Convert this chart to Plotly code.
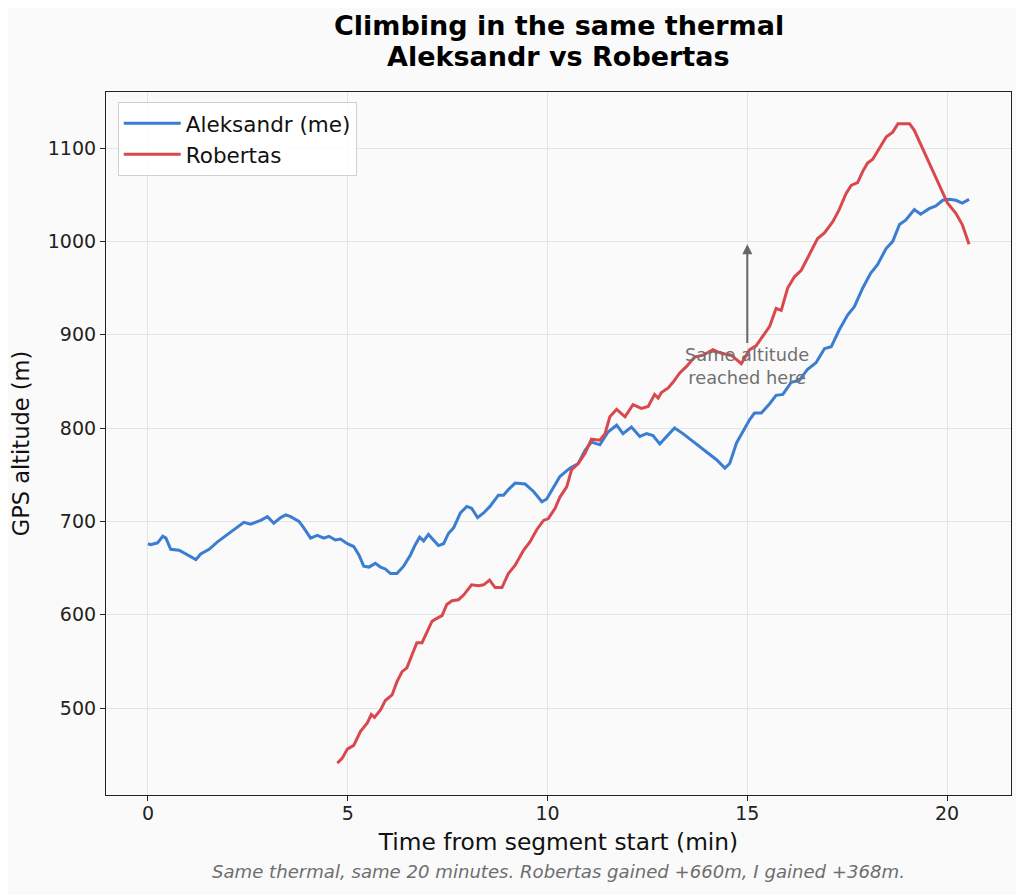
import plotly.graph_objects as go

# Aleksandr (me) - GPS altitude over segment time
aleks_t = [0, 0.07, 0.24, 0.37, 0.45, 0.57, 0.78, 0.99, 1.2, 1.32,
           1.53, 1.74, 1.95, 2.16, 2.4, 2.57, 2.82, 2.99, 3.15, 3.32,
           3.45, 3.57, 3.78, 3.9, 4.07, 4.24, 4.4, 4.53, 4.69, 4.82,
           4.99, 5.15, 5.28, 5.4, 5.53, 5.69, 5.82, 5.94, 6.07, 6.23,
           6.4, 6.57, 6.69, 6.8, 6.9, 7.02, 7.15, 7.27, 7.4, 7.52,
           7.65, 7.82, 7.98, 8.1, 8.25, 8.4, 8.56, 8.77, 8.9, 9.02,
           9.19, 9.44, 9.65, 9.86, 9.98, 10.15, 10.31, 10.56, 10.77, 10.94,
           11.1, 11.31, 11.52, 11.73, 11.89, 12.1, 12.31, 12.48, 12.64, 12.81,
           12.98, 13.18, 13.39, 13.6, 13.81, 14.02, 14.23, 14.44, 14.56, 14.73,
           14.89, 15.06, 15.18, 15.35, 15.56, 15.72, 15.89, 16.1, 16.3, 16.51,
           16.72, 16.93, 17.1, 17.3, 17.51, 17.68, 17.89, 18.09, 18.26, 18.47,
           18.64, 18.81, 18.97, 19.18, 19.34, 19.55, 19.72, 19.89, 20.05, 20.22,
           20.38, 20.55]
aleks_alt = [676, 675, 677, 684, 682, 670, 669, 664, 659, 665,
             670, 678, 685, 691, 699, 697, 701, 705, 698, 704,
             707, 705, 700, 693, 682, 685, 682, 684, 680, 681,
             676, 673, 664, 652, 651, 655, 651, 649, 644, 644,
             652, 664, 675, 683, 679, 686, 680, 674, 676, 687,
             693, 709, 716, 714, 704, 709, 716, 728, 728, 734,
             741, 740, 732, 721, 724, 737, 748, 757, 762, 776,
             785, 782, 796, 803, 794, 801, 791, 794, 792, 783,
             791, 800, 794, 787, 780, 772, 766, 757, 762, 784,
             796, 809, 816, 816, 826, 835, 836, 849, 851, 863,
             870, 885, 887, 905, 921, 930, 950, 966, 975, 992,
             1000, 1018, 1023, 1034, 1029, 1035, 1038, 1044, 1045, 1044,
             1041, 1045]

# Robertas
rob_t = [4.74, 4.86, 4.99, 5.15, 5.32, 5.49, 5.59, 5.67, 5.82, 5.94,
         6.11, 6.23, 6.36, 6.48, 6.61, 6.73, 6.86, 6.98, 7.11, 7.23,
         7.36, 7.48, 7.61, 7.77, 7.9, 8.1, 8.27, 8.4, 8.55, 8.69,
         8.86, 9.02, 9.19, 9.4, 9.56, 9.73, 9.9, 10.02, 10.19, 10.31,
         10.48, 10.6, 10.77, 10.94, 11.1, 11.31, 11.44, 11.56, 11.73, 11.94,
         12.14, 12.35, 12.52, 12.68, 12.77, 12.85, 13.02, 13.14, 13.31, 13.48,
         13.68, 13.89, 14.14, 14.35, 14.6, 14.85, 15.06, 15.22, 15.39, 15.56,
         15.72, 15.85, 16.01, 16.18, 16.35, 16.55, 16.76, 16.93, 17.14, 17.3,
         17.47, 17.6, 17.76, 17.89, 18.01, 18.14, 18.31, 18.48, 18.64, 18.77,
         18.93, 19.06, 19.18, 19.31, 19.47, 19.64, 19.81, 20.01, 20.22, 20.38,
         20.55]
rob_alt = [441, 446, 456, 460, 475, 484, 493, 490, 498, 508,
           514, 528, 539, 543, 557, 570, 570, 582, 593, 596,
           599, 611, 615, 616, 621, 632, 631, 632, 637, 629,
           629, 644, 653, 669, 678, 691, 701, 703, 714, 726,
           737, 755, 762, 773, 788, 787, 794, 812, 820, 812,
           825, 821, 823, 836, 832, 838, 843, 849, 859, 866,
           876, 878, 884, 880, 878, 869, 884, 888, 898, 909,
           928, 926, 950, 962, 969, 985, 1003, 1009, 1021, 1034,
           1051, 1060, 1063, 1075, 1084, 1088, 1100, 1112, 1117, 1126,
           1126, 1126, 1119, 1107, 1091, 1075, 1059, 1041, 1030, 1018,
           997]

x_ticks = [0, 5, 10, 15, 20]
y_ticks = [500, 600, 700, 800, 900, 1000, 1100]

FONT = "DejaVu Sans"
BG = "#fafafa"

fig = go.Figure()
fig.add_trace(go.Scatter(x=aleks_t, y=aleks_alt, mode="lines", name="Aleksandr (me)",
                         line=dict(color="#3a7dd1", width=3)))
fig.add_trace(go.Scatter(x=rob_t, y=rob_alt, mode="lines", name="Robertas",
                         line=dict(color="#d9484d", width=3)))

axis_common = dict(showline=True, linecolor="#222222", linewidth=1.2, mirror=True,
                   ticks="outside", ticklen=5, tickcolor="#222222",
                   showgrid=True, gridcolor="#e4e4e4", gridwidth=1, zeroline=False,
                   tickfont=dict(family=FONT, size=19, color="#222222"))

fig.update_xaxes(range=[-1.05, 21.6], tickvals=x_ticks, ticklabelstandoff=-4,
                 title=dict(text="Time from segment start (min)",
                            font=dict(family=FONT, size=23.3, color="#111111"), standoff=10),
                 **axis_common)
fig.update_yaxes(range=[406.8, 1160], tickvals=y_ticks,
                 title=dict(text="GPS altitude (m)",
                            font=dict(family=FONT, size=22.5, color="#111111"), standoff=12),
                 **axis_common)

# plot area height in px, used to place the title lines and the footer
PH = 703

fig.add_annotation(text="<b>Climbing in the same thermal</b>", xref="paper", yref="paper",
                   x=0.5, y=1 + (84 - 17) / PH, xanchor="center", yanchor="middle", showarrow=False,
                   font=dict(family=FONT, size=27, color="#000000"))
fig.add_annotation(text="<b>Aleksandr vs Robertas</b>", xref="paper", yref="paper",
                   x=0.5, y=1 + (84 - 49) / PH, xanchor="center", yanchor="middle", showarrow=False,
                   font=dict(family=FONT, size=27, color="#000000"))
fig.add_annotation(text="<i>Same thermal, same 20 minutes. Robertas gained +660m, I gained +368m.</i>",
                   xref="paper", yref="paper", x=0.5, y=-(863 - 787) / PH,
                   xanchor="center", yanchor="middle", showarrow=False,
                   font=dict(family=FONT, size=18.1, color="#6e6e6e"))

# arrow marking the point where both reached the same altitude
fig.add_annotation(text="Same altitude<br>reached here", x=15, y=997, ax=15, ay=866,
                   xref="x", yref="y", axref="x", ayref="y",
                   showarrow=True, arrowhead=2, arrowsize=1, arrowwidth=2, arrowcolor="#666666",
                   font=dict(family=FONT, size=17.8, color="#707070"))

fig.update_layout(width=1016, height=887,
                  margin=dict(l=97, r=12, t=84, b=100),
                  paper_bgcolor=BG, plot_bgcolor=BG,
                  font=dict(family=FONT),
                  showlegend=True,
                  legend=dict(x=0.013, y=0.986, xanchor="left", yanchor="top",
                              bgcolor="rgba(255,255,255,0.85)", bordercolor="#d0d0d0", borderwidth=1,
                              font=dict(family=FONT, size=21.5, color="#111111"),
                              itemwidth=57, tracegroupgap=0))

fig.write_html("out.html")
